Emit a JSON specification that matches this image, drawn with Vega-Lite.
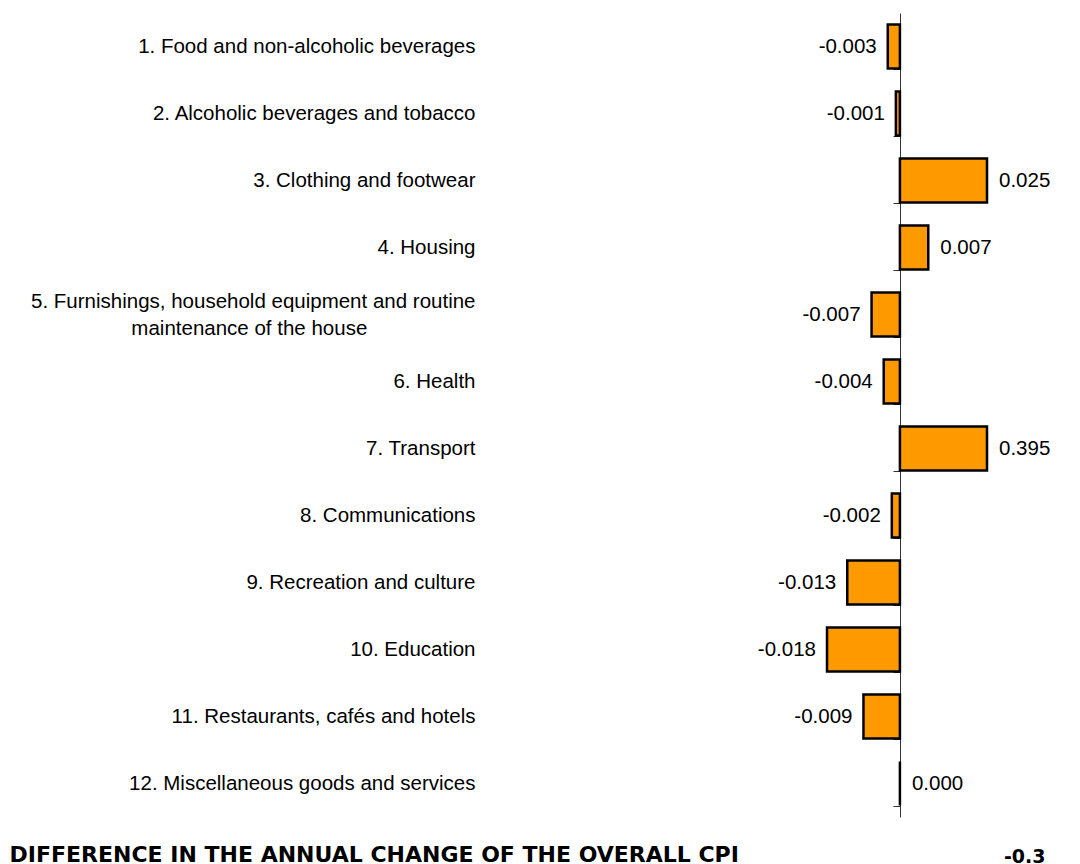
{
  "$schema": "https://vega.github.io/schema/vega-lite/v6.json",
  "autosize": {"type": "none"},
  "width": 177,
  "height": 804,
  "padding": {"left": 810, "top": 13, "right": 93, "bottom": 47},
  "config": {
    "view": {"stroke": null},
    "font": "Liberation Sans",
    "locale": {"number": {"decimal": ".", "thousands": ",", "grouping": [3], "currency": ["$", ""], "minus": "-"}}
  },
  "title": {
    "text": "DIFFERENCE IN THE ANNUAL CHANGE OF THE OVERALL CPI",
    "orient": "bottom",
    "anchor": "start",
    "frame": "bounds",
    "dx": -21,
    "font": "DejaVu Sans",
    "fontSize": 22,
    "fontWeight": "bold",
    "color": "black",
    "baseline": "alphabetic",
    "offset": -4
  },
  "data": {
    "values": [
      {"item": "1. Food and non-alcoholic beverages", "value": -0.003},
      {"item": "2. Alcoholic beverages and tobacco", "value": -0.001},
      {"item": "3. Clothing and footwear", "value": 0.025},
      {"item": "4. Housing", "value": 0.007},
      {"item": "5. Furnishings, household equipment and routine maintenance of the house", "value": -0.007},
      {"item": "6. Health", "value": -0.004},
      {"item": "7. Transport", "value": 0.395},
      {"item": "8. Communications", "value": -0.002},
      {"item": "9. Recreation and culture", "value": -0.013},
      {"item": "10. Education", "value": -0.018},
      {"item": "11. Restaurants, cafés and hotels", "value": -0.009},
      {"item": "12. Miscellaneous goods and services", "value": 0.0}
    ]
  },
  "encoding": {
    "y": {
      "field": "item",
      "type": "nominal",
      "sort": null,
      "scale": {"paddingInner": 0.34, "paddingOuter": 0.17},
      "axis": {
        "title": null,
        "offset": -90,
        "domainColor": "#333333",
        "tickColor": "#333333",
        "tickSize": 7,
        "tickBand": "extent",
        "labelPadding": 418,
        "labelOffset": -13.5,
        "labelFont": "Liberation Sans",
        "labelFontSize": 20.5,
        "labelColor": "black",
        "labelLimit": 700,
        "labelLineHeight": 13.5,
        "labelExpr": "datum.value == null ? '' : (datum.value == '5. Furnishings, household equipment and routine maintenance of the house' ? ['5. Furnishings, household equipment and routine', '\u200b', 'maintenance of the house\u00a0\u00a0\u00a0\u00a0\u00a0\u00a0\u00a0\u00a0\u00a0\u00a0\u00a0\u00a0\u00a0\u00a0\u00a0\u00a0\u00a0\u00a0\u00a0\u200b'] : ['', datum.value])"
      }
    },
    "x": {
      "field": "value",
      "type": "quantitative",
      "scale": {"domain": [-0.0222, 0.0215], "clamp": true, "nice": false, "zero": false},
      "axis": {
        "domain": false,
        "ticks": false,
        "labels": false,
        "grid": false,
        "title": "-0.3",
        "titleFont": "DejaVu Sans",
        "titleFontSize": 19,
        "titleFontWeight": "bold",
        "titleColor": "black",
        "titleX": 235,
        "titleY": 45,
        "titleAlign": "right",
        "titleAnchor": "end",
        "titleBaseline": "alphabetic"
      }
    }
  },
  "layer": [
    {
      "mark": {"type": "bar", "fill": "#FF9900", "stroke": "black", "strokeWidth": 2.5}
    },
    {
      "transform": [{"filter": "datum.value < 0"}],
      "mark": {"type": "text", "align": "right", "baseline": "middle", "dx": -11, "fontSize": 20.5, "font": "Liberation Sans", "color": "black"},
      "encoding": {"text": {"field": "value", "type": "quantitative", "format": ".3f"}}
    },
    {
      "transform": [{"filter": "datum.value >= 0"}],
      "mark": {"type": "text", "align": "left", "baseline": "middle", "dx": 12, "fontSize": 20.5, "font": "Liberation Sans", "color": "black"},
      "encoding": {"text": {"field": "value", "type": "quantitative", "format": ".3f"}}
    }
  ]
}
